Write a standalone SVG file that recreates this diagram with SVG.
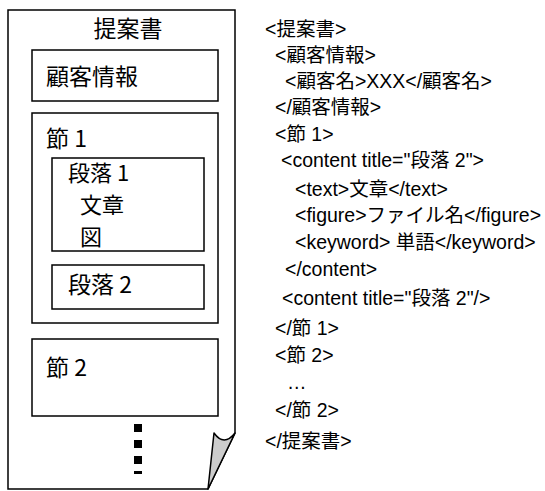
<svg xmlns="http://www.w3.org/2000/svg" width="545" height="491" viewBox="0 0 545 491">
<style>
.box{fill:#fff;stroke:#000;stroke-width:1.5}
.lt{font-family:"Noto Sans CJK JP","Liberation Sans",sans-serif;font-size:23px;fill:#000}
.ls{font-size:22px}
.rt{font-family:"Liberation Sans","Noto Sans CJK JP",sans-serif;font-size:19.5px;fill:#000}
</style>
<rect width="545" height="491" fill="#fff"/>
<g id="page">
<path d="M8,10 H235 V433 L208,489 H8 Z" class="box"/>
<path d="M214,433 Q224,447 235,433 L208,489 Z" fill="#cccccc" stroke="#000" stroke-width="1.5" stroke-linejoin="round"/>
<text class="lt" x="128" y="37" text-anchor="middle">提案書</text>
</g>
<g id="customer">
<rect class="box" x="32" y="50" width="186" height="51"/>
<text class="lt" x="46" y="85">顧客情報</text>
</g>
<g id="section1">
<rect class="box" x="32" y="113" width="186" height="210"/>
<text class="lt" x="46" y="147">節 1</text>
</g>
<g id="para1">
<rect class="box" x="52" y="158" width="152" height="93"/>
<text class="lt ls" x="68" y="181">段落 1</text>
<text class="lt ls" x="80" y="213">文章</text>
<text class="lt ls" x="80" y="245">図</text>
</g>
<g id="para2">
<rect class="box" x="52" y="265" width="152" height="44"/>
<text class="lt" x="68" y="293">段落 2</text>
</g>
<g id="section2">
<rect class="box" x="32" y="339" width="186" height="77"/>
<text class="lt" x="46" y="376">節 2</text>
</g>
<g id="dots" fill="#000">
<rect x="134" y="424" width="8" height="8"/>
<rect x="134" y="440" width="8" height="8"/>
<rect x="134" y="456" width="8" height="8"/>
<rect x="134" y="471" width="8" height="3"/>
</g>
<g id="xml">
<text class="rt" x="265" y="36">&lt;提案書&gt;</text>
<text class="rt" x="275" y="62">&lt;顧客情報&gt;</text>
<text class="rt" x="285" y="88">&lt;顧客名&gt;XXX&lt;/顧客名&gt;</text>
<text class="rt" x="275" y="114">&lt;/顧客情報&gt;</text>
<text class="rt" x="275" y="141">&lt;節 1&gt;</text>
<text class="rt" x="281" y="167">&lt;content  title="段落 2"&gt;</text>
<text class="rt" x="295" y="196">&lt;text&gt;文章&lt;/text&gt;</text>
<text class="rt" x="295" y="222">&lt;figure&gt;ファイル名&lt;/figure&gt;</text>
<text class="rt" x="295" y="249">&lt;keyword&gt; 単語&lt;/keyword&gt;</text>
<text class="rt" x="285" y="276">&lt;/content&gt;</text>
<text class="rt" x="282" y="305">&lt;content  title="段落 2"/&gt;</text>
<text class="rt" x="275" y="335">&lt;/節 1&gt;</text>
<text class="rt" x="275" y="362">&lt;節 2&gt;</text>
<text class="rt" x="287" y="389">…</text>
<text class="rt" x="275" y="417">&lt;/節 2&gt;</text>
<text class="rt" x="265" y="448">&lt;/提案書&gt;</text>
</g>
</svg>
